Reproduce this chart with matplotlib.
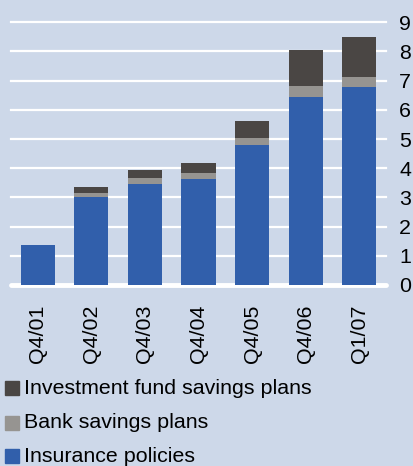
import matplotlib
matplotlib.use("Agg")
import matplotlib.pyplot as plt
from matplotlib.patches import Rectangle
import numpy as np

categories = ["Q4/01", "Q4/02", "Q4/03", "Q4/04", "Q4/05", "Q4/06", "Q1/07"]
insurance = [1.37, 3.02, 3.46, 3.63, 4.80, 6.44, 6.78]
bank = [0.0, 0.13, 0.21, 0.21, 0.24, 0.38, 0.35]
investment = [0.0, 0.21, 0.27, 0.34, 0.58, 1.23, 1.37]
series_names = ["Investment fund savings plans", "Bank savings plans", "Insurance policies"]
yticks = list(range(0, 10))

bg = "#cdd8e9"
c_ins = "#315fab"
c_bank = "#969491"
c_inv = "#4a4644"

plt.rcParams["font.family"] = ["Liberation Sans", "DejaVu Sans"]
fs = 15.4

fig = plt.figure(figsize=(4.13, 4.66), dpi=100)
fig.patch.set_facecolor(bg)
ax = fig.add_axes([11 / 413, 1 - 285 / 466, 375 / 413, (285 - 22.3) / 466])
ax.set_facecolor(bg)

x = np.arange(len(categories))
ins = np.array(insurance)
bk = np.array(bank)
inv = np.array(investment)

# white grid lines behind the bars, thicker zero line
for y in yticks[1:]:
    ax.axhline(y, color="white", lw=1.6, zorder=1, clip_on=False)
ax.axhline(0, color="white", lw=3.5, zorder=1, clip_on=False, solid_capstyle="round")

w = 0.64
ax.bar(x, ins, w, color=c_ins, zorder=2)
ax.bar(x, bk, w, bottom=ins, color=c_bank, zorder=2)
ax.bar(x, inv, w, bottom=ins + bk, color=c_inv, zorder=2)

ax.set_xlim(-0.5, len(categories) - 0.5)
ax.set_ylim(0, 9)
for s in ax.spines.values():
    s.set_visible(False)

ax.yaxis.tick_right()
ax.set_yticks(yticks)
ax.set_yticklabels([str(v) for v in yticks], fontsize=fs)
ax.tick_params(axis="y", length=0, pad=9.5)

ax.set_xticks(x)
ax.set_xticklabels(categories, rotation=90, fontsize=fs)
ax.tick_params(axis="x", length=0, pad=14)

# legend drawn by hand at the bottom left
colors = [c_inv, c_bank, c_ins]
rows = [388, 423, 456]
for name, col, yc in zip(series_names, colors, rows):
    fig.patches.append(Rectangle((5 / 413, 1 - (yc + 7) / 466), 14 / 413, 14 / 466,
                                 transform=fig.transFigure, color=col, figure=fig))
    fig.text(24 / 413, 1 - yc / 466, name, fontsize=fs, va="center", ha="left")

fig.savefig("out.png", dpi=100, facecolor=bg)
